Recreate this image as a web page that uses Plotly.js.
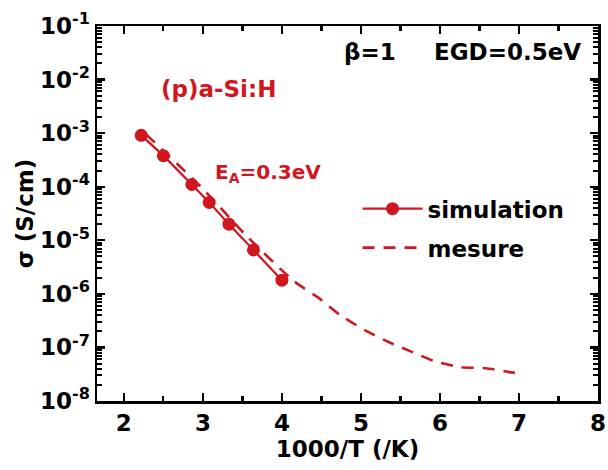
<!DOCTYPE html>
<html>
<head>
<meta charset="utf-8">
<script src="https://cdn.plot.ly/plotly-3.0.1.min.js"></script>
<style>html,body{margin:0;padding:0;background:#fff;}#chart{width:608px;height:470px;}</style>
</head>
<body>
<div id="chart"></div>
<script>
// simulation: 1000/T and conductivity
const simX = [2.22, 2.50, 2.86, 3.08, 3.33, 3.64, 4.00];
const simY = [9.1e-4, 3.8e-4, 1.1e-4, 5.1e-5, 2.0e-5, 6.6e-6, 1.8e-6];
// measurement
const mesX = [2.28, 2.98, 3.54, 4.15, 4.46, 4.74, 5.05, 5.35, 5.66, 5.95, 6.26, 6.58, 6.86, 6.99];
const mesY = [9.5e-4, 9.8e-5, 1.26e-5, 1.74e-6, 8.5e-7, 4.0e-7, 2.1e-7, 1.26e-7, 8.1e-8, 5.4e-8, 4.3e-8, 4.1e-8, 3.5e-8, 3.3e-8];
// axis ticks
const xTicks = [2, 3, 4, 5, 6, 7, 8];
const xMinor = [1.5, 2.5, 3.5, 4.5, 5.5, 6.5, 7.5];
const yTickExp = [-8, -7, -6, -5, -4, -3, -2, -1];
const yMinorMult = [2, 3, 4, 5, 6, 7, 8, 9];
const seriesNames = ['simulation', 'mesure'];

const RED = '#d0161f';
const FONT = 'DejaVu Sans, Arial, sans-serif';

const yTickVals = yTickExp.map(e => Math.pow(10, e));
const yTickText = yTickExp.map(e => '10<sup>' + e + '</sup>');
const yMinorVals = [];
yTickExp.slice(0, -1).forEach(e => yMinorMult.forEach(m => yMinorVals.push(m * Math.pow(10, e))));

const traces = [
  {
    x: simX, y: simY, name: seriesNames[0], type: 'scatter', mode: 'lines+markers',
    line: {color: RED, width: 2.2}, marker: {color: RED, size: 13},
    legendgroup: 'a'
  },
  {
    x: mesX, y: mesY, name: seriesNames[1], type: 'scatter', mode: 'lines',
    line: {color: RED, width: 2.6, dash: '12px,9px', shape: 'spline', smoothing: 0.6},
    legendgroup: 'b'
  }
];

const axisCommon = {
  showline: true, linecolor: '#000', linewidth: 2.5, mirror: 'ticks',
  ticks: 'inside', tickcolor: '#000', tickwidth: 2.2, showgrid: false, zeroline: false,
  tickfont: {family: FONT, size: 23, color: '#000', weight: 'bold'}
};

const layout = {
  width: 608, height: 470,
  margin: {l: 97, r: 10, t: 26, b: 69},
  paper_bgcolor: '#fff', plot_bgcolor: '#fff',
  font: {family: FONT, color: '#000'},
  xaxis: Object.assign({}, axisCommon, {
    range: [1.66, 8], tickmode: 'array', tickvals: xTicks, ticklen: 8,
    minor: {ticks: 'inside', tickmode: 'array', tickvals: xMinor, ticklen: 5, tickwidth: 2.2, tickcolor: '#000', showgrid: false},
    title: {text: '1000/T (/K)', font: {family: FONT, size: 23, color: '#000', weight: 'bold'}, standoff: 6}
  }),
  yaxis: Object.assign({}, axisCommon, {
    type: 'log', range: [-8, -1], tickmode: 'array', tickvals: yTickVals, ticktext: yTickText, ticklen: 8,
    minor: {ticks: 'inside', tickmode: 'array', tickvals: yMinorVals, ticklen: 5, tickwidth: 2, tickcolor: '#000', showgrid: false},
    title: {text: 'σ (S/cm)', font: {family: FONT, size: 23, color: '#000', weight: 'bold'}, standoff: 0}
  }),
  showlegend: true,
  legend: {
    x: 0.52, y: 0.57, xanchor: 'left', yanchor: 'top',
    bgcolor: 'rgba(0,0,0,0)', borderwidth: 0,
    font: {family: FONT, size: 23, color: '#000', weight: 'bold'},
    traceorder: 'grouped', tracegroupgap: 6, itemwidth: 60
  },
  annotations: [
    {xref: 'paper', yref: 'paper', x: 0.545, y: 0.931, xanchor: 'center', yanchor: 'middle', text: 'β=1', showarrow: false,
     font: {family: FONT, size: 23, color: '#000', weight: 'bold'}},
    {xref: 'paper', yref: 'paper', x: 0.82, y: 0.931, xanchor: 'center', yanchor: 'middle', text: 'EGD=0.5eV', showarrow: false,
     font: {family: FONT, size: 23, color: '#000', weight: 'bold'}},
    {xref: 'paper', yref: 'paper', x: 0.2435, y: 0.832, xanchor: 'center', yanchor: 'middle', text: '(p)a-Si:H', showarrow: false,
     font: {family: FONT, size: 23, color: RED, weight: 'bold'}},
    {xref: 'paper', yref: 'paper', x: 0.2315, y: 0.608, xanchor: 'left', yanchor: 'middle', text: 'E<sub>A</sub>=0.3eV', showarrow: false,
     font: {family: FONT, size: 20, color: RED, weight: 'bold'}}
  ]
};

Plotly.newPlot('chart', traces, layout, {displayModeBar: false, staticPlot: true});
</script>
</body>
</html>
